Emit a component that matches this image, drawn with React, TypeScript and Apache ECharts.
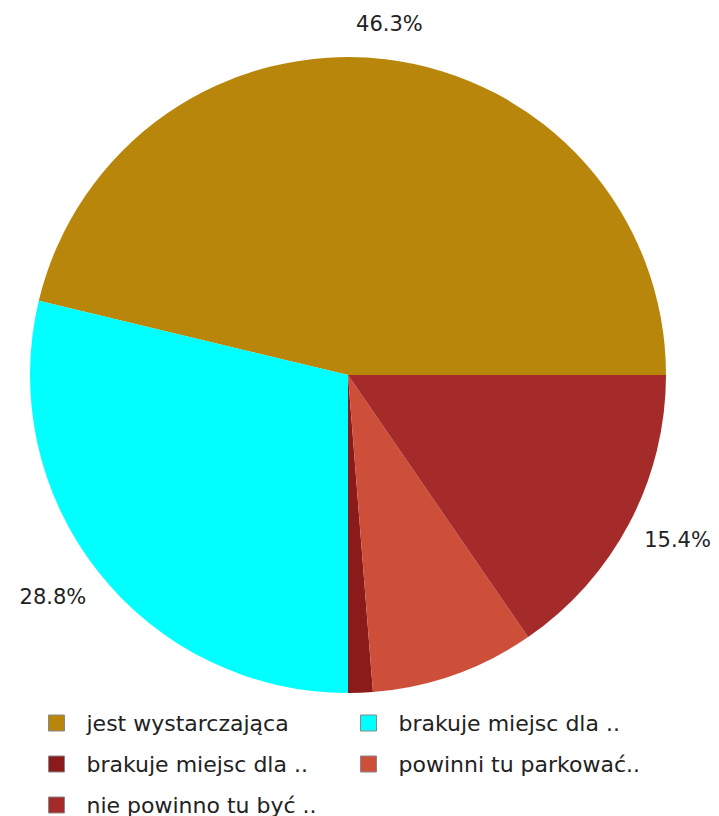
import React, { useEffect, useRef } from "react";
import * as echarts from "echarts";

// Data
const categories = [
  "jest wystarczająca",
  "brakuje miejsc dla ..",
  "brakuje miejsc dla ..",
  "powinni tu parkować..",
  "nie powinno tu być ..",
];
const values = [111, 69, 3, 20, 37];
const colors = ["#B8860B", "#00FFFF", "#8B1A1A", "#CD4F39", "#A52A2A"];
const leftLegendIdx = [0, 2, 4];
const rightLegendIdx = [1, 3];

const LABEL_GAP = 20;

export default function App() {
  const ref = useRef<HTMLDivElement>(null);

  useEffect(() => {
    document.body.style.margin = "0";
    if (!ref.current) return;
    const chart = echarts.init(ref.current, undefined, { renderer: "svg" });
    const total = values.reduce((a, b) => a + b, 0);
    const keys = categories.map((c, i) => `${c}#${i}`);
    const strip = (n: string) => n.replace(/#\d+$/, "");

    const data = values.map((v, i) => ({
      name: keys[i],
      value: v,
      itemStyle: { color: colors[i] },
      label: { show: v / total > 0.1 },
    }));

    const legendCommon = {
      orient: "vertical" as const,
      top: 712,
      height: 110,
      padding: 0,
      itemWidth: 16,
      itemHeight: 16,
      itemGap: 19,
      icon: "rect",
      itemStyle: { borderColor: "#888", borderWidth: 1 },
      formatter: (n: string) => strip(n),
      textStyle: {
        fontFamily: "DejaVu Sans",
        fontSize: 22,
        lineHeight: 22,
        color: "#222",
        padding: [0, 0, 0, 17],
      },
    };

    chart.setOption({
      animation: false,
      backgroundColor: "#ffffff",
      legend: [
        { ...legendCommon, left: 48, data: leftLegendIdx.map((i) => keys[i]) },
        { ...legendCommon, left: 360, data: rightLegendIdx.map((i) => keys[i]) },
      ],
      series: [
        {
          type: "pie",
          center: [348, 375],
          radius: 318,
          startAngle: 0,
          clockwise: false,
          avoidLabelOverlap: false,
          itemStyle: { borderWidth: 0 },
          emphasis: { disabled: true },
          label: {
            position: "outside",
            formatter: (p: any) => `${p.percent.toFixed(1)}%`,
            fontFamily: "DejaVu Sans",
            fontSize: 21,
            color: "#222",
          },
          labelLine: {
            show: true,
            length: 10,
            length2: 0,
            lineStyle: { opacity: 0, width: 0 },
          },
          labelLayout: (params: any) => {
            const pts = params.labelLinePoints;
            if (!pts || pts.length < 2) return {};
            const p0 = pts[0];
            const p1 = pts[1];
            const dx = p1[0] - p0[0];
            const dy = p1[1] - p0[1];
            const len = Math.hypot(dx, dy) || 1;
            const ux = dx / len;
            const uy = dy / len;
            const w = params.labelRect.width;
            const h = params.labelRect.height;
            const d = LABEL_GAP + (Math.abs(ux) * w) / 2 + (Math.abs(uy) * h) / 2;
            return {
              x: p0[0] + ux * d - 4 * (ux < 0 ? 1 : 0),
              y: p0[1] + uy * d - 10 * Math.abs(ux),
              align: "center",
              verticalAlign: "middle",
            };
          },
          data,
        },
      ],
    });

    return () => chart.dispose();
  }, []);

  return <div ref={ref} style={{ width: 719, height: 816 }} />;
}
